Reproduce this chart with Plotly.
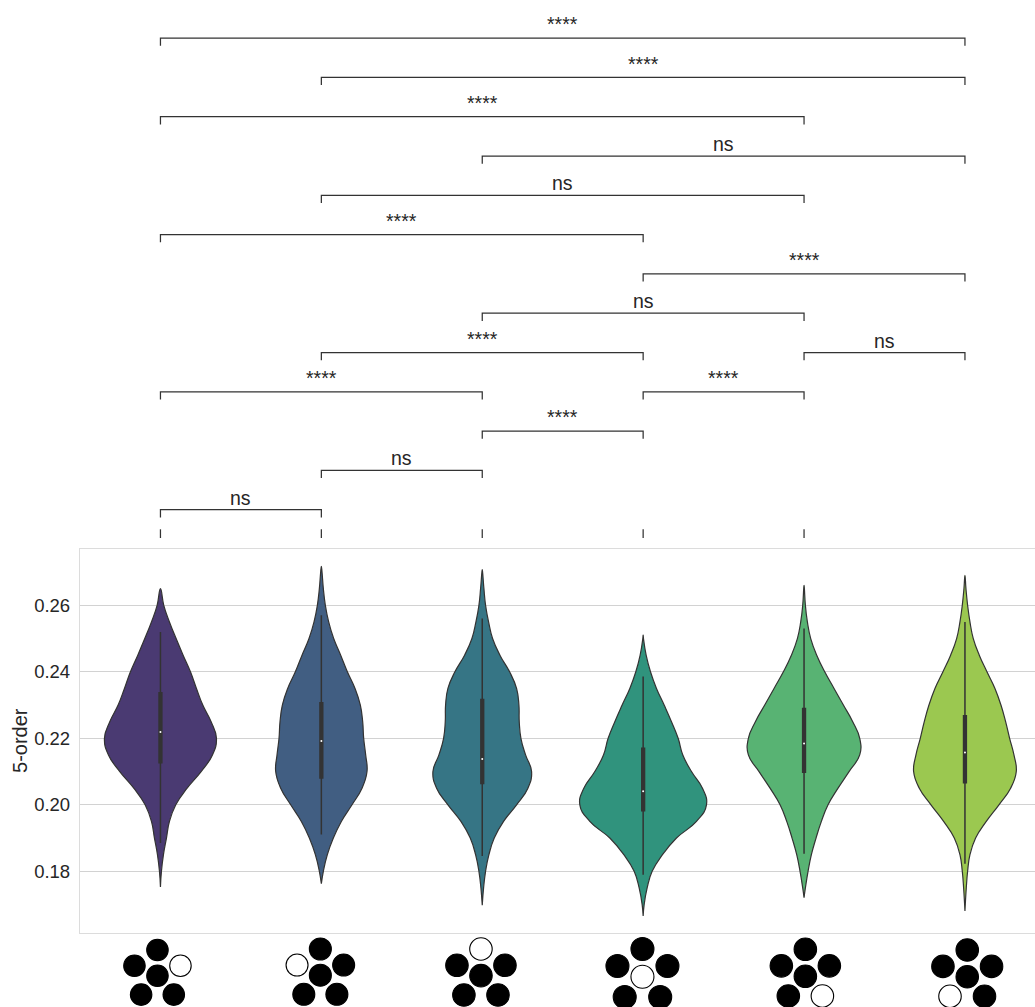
import plotly.graph_objects as go

# ---------- data ----------
GROUP_POS = [0, 1, 2, 3, 4, 5]
COLORS = ["#4a3a72", "#415e82", "#367585", "#30937d", "#58b373", "#9bc850"]
Y_TICKS = [0.18, 0.20, 0.22, 0.24, 0.26]

y_1 = [.265,.26,.255,.25,.245,.24,.235,.23,.225,.22,.215,.21,.205,.20,.195,.19,.185,.18,.1753]
d_1 = [0,10,27,47,68,90,108,127,152,168,156,122,80,46,27,18,9,3,0]
y_2 = [.2717,.27,.265,.26,.255,.25,.245,.24,.235,.23,.225,.22,.215,.21,.205,.20,.195,.19,.185,.18,.1763]
d_2 = [0,2,6,12,22,37,58,78,101,117,124,127,133,137,122,92,60,36,18,6,0]
y_3 = [.2707,.27,.265,.26,.255,.25,.245,.24,.235,.23,.225,.22,.215,.21,.205,.20,.195,.19,.185,.18,.175,.1698]
d_3 = [0,1,5,10,19,31,53,82,103,110,111,116,130,148,137,103,64,36,20,10,4,0]
y_4 = [.251,.25,.245,.24,.235,.23,.225,.22,.215,.21,.205,.20,.195,.19,.185,.18,.175,.17,.1666]
d_4 = [0,1,9,22,40,63,85,105,119,145,178,190,160,100,58,27,12,3,0]
y_5 = [.266,.265,.26,.255,.25,.245,.24,.235,.23,.225,.22,.215,.21,.205,.20,.195,.19,.185,.18,.175,.1721]
d_5 = [0,1,4,10,20,38,62,90,118,146,167,167,135,102,72,52,36,22,12,4,0]
y_6 = [.269,.265,.26,.255,.25,.245,.24,.235,.23,.225,.22,.215,.21,.205,.20,.195,.19,.185,.18,.175,.17,.1681]
d_6 = [0,3,8,15,25,43,66,90,108,122,134,147,154,137,102,64,32,15,8,4,1,0]
ALL_Y = [y_1, y_2, y_3, y_4, y_5, y_6]
ALL_D = [d_1, d_2, d_3, d_4, d_5, d_6]

whisker_high = [.2520, .2570, .2560, .2386, .2530, .2550]
whisker_low = [.1885, .1911, .1846, .1790, .1853, .1823]
q3 = [.2339, .2309, .2319, .2172, .2292, .2270]
q1 = [.2124, .2078, .2062, .1980, .2096, .2064]
median = [.2219, .2192, .2138, .2041, .2184, .2157]

# bracket table: level, first group, second group, label
bracket_level = [0, 1, 2, 3, 3, 4, 4, 5, 6, 7, 8, 9, 10, 11, 12]
bracket_a = [0, 1, 2, 0, 3, 1, 4, 2, 3, 0, 1, 2, 0, 1, 0]
bracket_b = [1, 2, 3, 2, 4, 3, 5, 4, 5, 3, 4, 5, 4, 5, 5]
bracket_text = ["ns", "ns", "****", "****", "****", "****", "ns", "ns", "****",
                "****", "ns", "ns", "****", "****", "****"]

# icon under each violin: index of the open circle among the 6 discs
# order of discs: top, left, centre, right, bottom-left, bottom-right
open_disc = [3, 1, 0, 2, 5, 4]

# ---------- layout helpers ----------
W, H = 1035, 1007
PLOT_L, PLOT_T, PLOT_B = 80, 549, 932.5
PX_PER_UNIT = 3325.0
PX_PER_CAT = 160.9
Y_REF_PX, Y_REF = 605.3, 0.26
to_data = lambda px: Y_REF + (Y_REF_PX - px) / PX_PER_UNIT
X_RANGE = [-0.5, -0.5 + (W - PLOT_L) / PX_PER_CAT]
D_SCALE = 482.7

fig = go.Figure()

# violins
for i, c in enumerate(GROUP_POS):
    ys, ds = ALL_Y[i], ALL_D[i]
    left = [c - d / D_SCALE for d in ds]
    right = [c + d / D_SCALE for d in ds]
    fig.add_trace(go.Scatter(
        x=left + right[::-1], y=ys + ys[::-1], mode="lines", fill="toself",
        fillcolor=COLORS[i], line=dict(color="#333333", width=1.2, shape="spline", smoothing=1.3),
        hoverinfo="skip", showlegend=False))
    fig.add_trace(go.Scatter(x=[c, c], y=[whisker_low[i], whisker_high[i]], mode="lines",
                             line=dict(color="#333333", width=1.5), hoverinfo="skip", showlegend=False))
    fig.add_trace(go.Scatter(x=[c, c], y=[q1[i], q3[i]], mode="lines",
                             line=dict(color="#333333", width=4.3), hoverinfo="skip", showlegend=False))
    fig.add_trace(go.Scatter(x=[c], y=[median[i]], mode="markers",
                             marker=dict(color="white", size=2), hoverinfo="skip", showlegend=False))

# brackets (second y axis continues the same value scale above the plot)
BASE_PX, STEP_PX, LEG_PX = 509.7, 39.3, 7.7
for lvl, a, b, t in zip(bracket_level, bracket_a, bracket_b, bracket_text):
    top = BASE_PX - lvl * STEP_PX
    fig.add_trace(go.Scatter(
        x=[a, a, b, b], y=[to_data(top + LEG_PX), to_data(top), to_data(top), to_data(top + LEG_PX)],
        mode="lines", yaxis="y2", line=dict(color="#333333", width=1.25),
        hoverinfo="skip", showlegend=False))
    fig.add_annotation(x=(a + b) / 2, y=to_data(top), yref="y2", xref="x", text=t, showarrow=False,
                       yanchor="bottom", xanchor="center", yshift=-1 if t == "ns" else 0.7,
                       font=dict(family="Liberation Sans", size=19.5, color="#262626"))
for c in GROUP_POS[:5]:
    fig.add_trace(go.Scatter(x=[c, c], y=[to_data(538), to_data(529.3)], mode="lines", yaxis="y2",
                             line=dict(color="#333333", width=1.25), hoverinfo="skip", showlegend=False))

# icons (third y axis counts pixels up from the page bottom)
ICON_DX = [0, -1, 0, 1, -0.71, 0.71]
ICON_DY = [0, 16.3, 26.6, 16.3, 46, 46]
icon_half = [23, 23.3, 24, 25, 24, 24.3]
icon_xoff = [-3, -1, -1.3, -0.7, 1.3, 2.3]
icon_top = [950, 949, 949, 949, 949.3, 950]
icon_size = [21.5, 22, 22.5, 23, 22.5, 22.5]
icon_yscale = [0.97, 0.985, 1.0, 1.045, 1.015, 1.005]
for i, c in enumerate(GROUP_POS):
    xs = [c + (icon_xoff[i] + dx * icon_half[i]) / PX_PER_CAT for dx in ICON_DX]
    ys = [H - (icon_top[i] + dy * icon_yscale[i]) for dy in ICON_DY]
    fills = ["white" if k == open_disc[i] else "black" for k in range(6)]
    fig.add_trace(go.Scatter(x=xs, y=ys, mode="markers", yaxis="y3", cliponaxis=False,
                             marker=dict(color=fills, size=icon_size[i], line=dict(color="black", width=1.1)),
                             hoverinfo="skip", showlegend=False))

f_bottom = (H - PLOT_B) / H
f_top = (H - PLOT_T) / H
fig.update_layout(
    width=W, height=H, margin=dict(l=PLOT_L, r=0, t=0, b=0),
    paper_bgcolor="white", plot_bgcolor="white", showlegend=False,
    font=dict(family="Liberation Sans", color="#262626"),
    xaxis=dict(range=X_RANGE, showgrid=False, zeroline=False, showticklabels=False, ticks="",
               showline=True, mirror=True, linecolor="#dcdcdc", linewidth=1.3, anchor="y"),
    yaxis=dict(domain=[f_bottom, f_top], range=[to_data(PLOT_B), to_data(PLOT_T)],
               tickvals=Y_TICKS, ticktext=[f"{v:.2f}" for v in Y_TICKS], ticks="",
               tickfont=dict(size=18.5, color="#262626"), ticklabelstandoff=5,
               showgrid=True, gridcolor="#d2d2d2", gridwidth=1, zeroline=False,
               showline=True, linecolor="#dcdcdc", linewidth=1.3,
               title=dict(text="5-order", font=dict(size=20, color="#262626"), standoff=1)),
    yaxis2=dict(domain=[f_top, 1], range=[to_data(PLOT_T), to_data(0)], visible=False, anchor="x"),
    yaxis3=dict(domain=[0, f_bottom], range=[0, H - PLOT_B], visible=False, anchor="x"),
)

fig.write_html("out.html", config=dict(displayModeBar=False),
               post_script="document.body.style.margin='0';document.body.style.overflow='hidden';")
